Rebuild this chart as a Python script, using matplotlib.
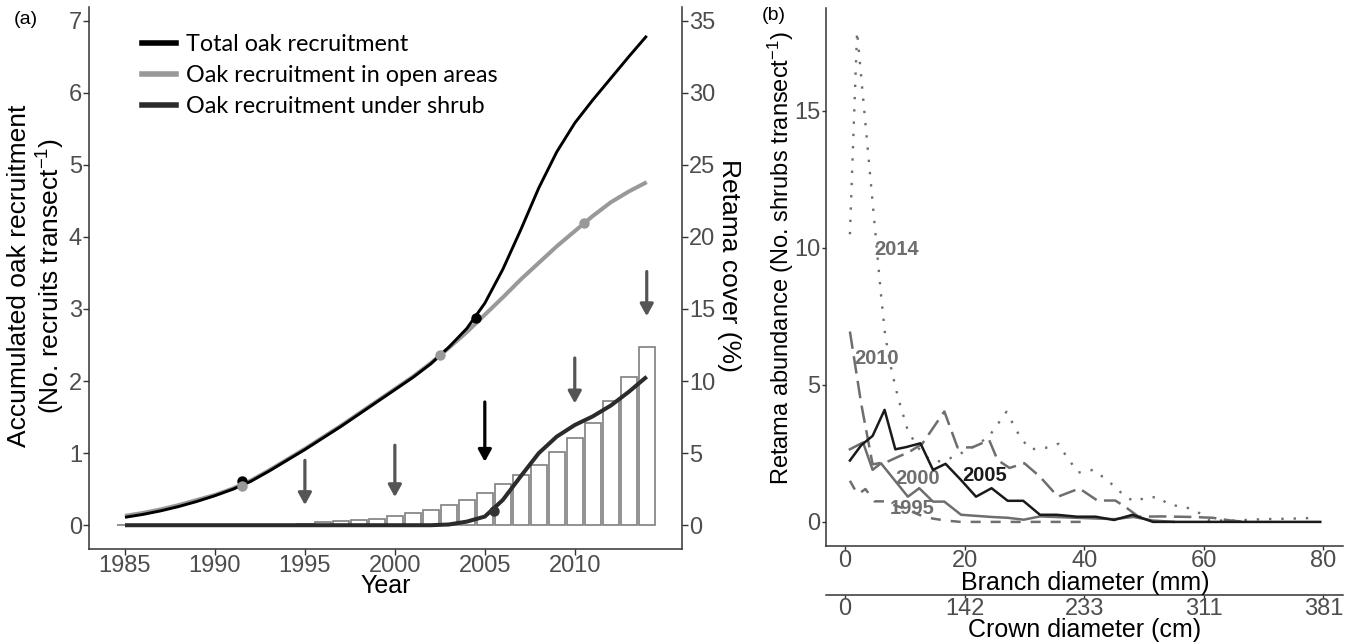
import matplotlib
matplotlib.use("Agg")
import matplotlib.pyplot as plt
from matplotlib.lines import Line2D

plt.rcParams["font.family"] = ["Liberation Sans", "DejaVu Sans"]
plt.rcParams["mathtext.fontset"] = "custom"
plt.rcParams["mathtext.rm"] = "Liberation Sans"
plt.rcParams["mathtext.default"] = "regular"

# ---- panel (a) data ----
years = list(range(1985, 2015))
total_oak = [0.11, 0.15, 0.20, 0.26, 0.33, 0.41, 0.50, 0.61, 0.75, 0.90,
             1.05, 1.21, 1.37, 1.54, 1.71, 1.88, 2.05, 2.24, 2.47, 2.73,
             3.08, 3.55, 4.10, 4.68, 5.18, 5.58, 5.90, 6.20, 6.50, 6.79]
open_oak = [0.13, 0.17, 0.22, 0.28, 0.35, 0.42, 0.51, 0.62, 0.76, 0.91,
            1.06, 1.22, 1.38, 1.55, 1.72, 1.89, 2.06, 2.25, 2.46, 2.68,
            2.92, 3.16, 3.41, 3.64, 3.87, 4.08, 4.29, 4.48, 4.63, 4.76]
shrub_oak = [0, 0, 0, 0, 0, 0, 0, 0, 0, 0,
             0, 0, 0, 0, 0, 0, 0, 0, 0.01, 0.05,
             0.12, 0.35, 0.68, 1.00, 1.23, 1.39, 1.51, 1.66, 1.85, 2.06]
retama_cover = [0, 0, 0, 0, 0, 0, 0, 0, 0, 0,
                0.05, 0.19, 0.28, 0.35, 0.46, 0.63, 0.86, 1.09, 1.41, 1.78,
                2.25, 2.89, 3.47, 4.21, 5.05, 6.02, 7.08, 8.61, 10.28, 12.38]

# highlighted points on the curves
total_pts_x = [1991.5, 2004.5]
total_pts_y = [0.61, 2.87]
open_pts_x = [1991.5, 2002.5, 2010.5]
open_pts_y = [0.55, 2.36, 4.20]
shrub_pts_x = [2005.5]
shrub_pts_y = [0.20]

# arrows (year, tail, tip) in left-axis units
arrow_years = [1995, 2000, 2005, 2010, 2014]
arrow_tail = [0.90, 1.11, 1.71, 2.32, 3.52]
arrow_tip = [0.28, 0.39, 0.88, 1.69, 2.90]
arrow_colors = ["#555555", "#555555", "#000000", "#555555", "#555555"]

# ---- panel (b) data ----
x1995 = [0.8, 2.1, 3.4, 4.9, 6.6, 8.4, 10.3, 12.5, 14.7, 16.8, 19.3, 25.0, 32.6, 40.0]
y1995 = [1.50, 1.00, 1.20, 0.75, 0.75, 0.60, 0.45, 0.25, 0.12, 0.05, 0.0, 0.0, 0.0, 0.0]

x2000 = [0.8, 3.0, 4.6, 6.0, 10.5, 12.4, 14.7, 16.6, 19.4, 24.5, 27.2, 29.9,
         32.6, 38.6, 45.0, 48.2, 51.5, 55.0]
y2000 = [2.65, 2.90, 1.90, 2.14, 0.92, 1.23, 0.74, 0.74, 0.26, 0.18, 0.15, 0.08,
         0.20, 0.15, 0.10, 0.18, 0.05, 0.0]

x2005 = [0.8, 2.7, 4.6, 6.6, 8.4, 10.2, 12.6, 14.7, 16.8, 19.3, 21.9, 24.5,
         27.2, 29.8, 32.6, 35.4, 38.8, 41.9, 45.0, 48.1, 51.5, 60.0, 70.0, 79.5]
y2005 = [2.24, 2.80, 3.14, 4.09, 2.65, 2.73, 2.87, 1.90, 2.12, 1.55, 0.92, 1.23,
         0.77, 0.77, 0.26, 0.26, 0.19, 0.19, 0.07, 0.26, 0.0, 0.0, 0.0, 0.0]

x2010 = [0.8, 2.7, 4.6, 7.1, 8.8, 10.7, 12.9, 16.6, 18.8, 21.3, 24.1, 25.5,
         27.5, 30.0, 32.6, 35.6, 39.2, 42.2, 45.2, 46.8, 49.1, 53.0, 58.0,
         61.5, 64.5, 67.0]
y2010 = [6.95, 4.30, 2.10, 2.20, 2.37, 2.55, 2.85, 4.03, 2.72, 2.72, 2.99, 2.26,
         1.97, 2.14, 1.65, 0.92, 1.22, 0.78, 0.78, 0.56, 0.19, 0.20, 0.18,
         0.15, 0.05, 0.0]

x2014 = [0.8, 2.0, 6.0, 6.7, 7.8, 8.9, 10.4, 12.0, 14.0, 16.0, 18.5, 21.5,
         24.0, 27.0, 29.4, 31.0, 33.5, 35.7, 37.0, 39.0, 41.5, 44.0, 47.0,
         48.5, 50.5, 52.5, 54.0, 57.5, 59.5, 61.0, 65.0, 70.0, 75.0, 79.0]
y2014 = [10.5, 17.9, 8.3, 6.8, 5.5, 4.5, 3.4, 2.75, 2.3, 2.2, 2.4, 2.75,
         3.10, 4.02, 3.05, 2.65, 2.70, 2.85, 2.40, 1.80, 1.90, 1.50, 0.90,
         0.75, 0.90, 0.90, 0.65, 0.50, 0.30, 0.05, 0.05, 0.10, 0.12, 0.15]

branch_ticks = [0, 20, 40, 60, 80]
crown_labels = ["0", "142", "233", "311", "381"]

W, H = 1352, 644
fig = plt.figure(figsize=(W / 100, H / 100), dpi=100)


def frac(x, y):
    return x / W, 1 - y / H


AX_COL = "#333333"
TICK_COL = "#4d4d4d"
TSIZE = 17

# ================= panel (a) =================
axa = fig.add_axes([89 / W, 1 - 549 / H, (682 - 89) / W, (549 - 7) / H])
axr = axa.twinx()
axa.set_zorder(axr.get_zorder() + 1)
axa.patch.set_visible(False)

axr.bar(years, retama_cover, width=0.9, color="white", edgecolor="#7f7f7f",
        linewidth=1.2)

axa.plot(years, shrub_oak, color="#2b2b2b", lw=2.9, solid_capstyle="butt", zorder=3)
axa.plot(years, open_oak, color="#999999", lw=2.9, solid_capstyle="butt", zorder=3)
axa.plot(years, total_oak, color="black", lw=2.1, solid_capstyle="butt", zorder=4)
axa.plot(total_pts_x, total_pts_y, "o", color="black", ms=6.5, zorder=5)
axa.plot(open_pts_x, open_pts_y, "o", color="#999999", ms=6.5, zorder=5)
axa.plot(shrub_pts_x, shrub_pts_y, "o", color="#333333", ms=6.5, zorder=5)

for yr, t0, t1, c in zip(arrow_years, arrow_tail, arrow_tip, arrow_colors):
    axa.annotate("", xy=(yr, t1), xytext=(yr, t0),
                 arrowprops=dict(arrowstyle="-|>,head_length=0.4,head_width=0.22",
                                 color=c, lw=2.3, shrinkA=0, shrinkB=0,
                                 mutation_scale=18), zorder=6)

axa.set_xlim(1983.0, 2015.96)
axa.set_ylim(-0.33, 7.19)
axr.set_ylim(-0.33 * 5, 7.19 * 5)
axa.set_xticks([1985, 1990, 1995, 2000, 2005, 2010])
axa.set_yticks(range(0, 8))
axr.set_yticks(range(0, 36, 5))

for ax in (axa, axr):
    ax.spines["top"].set_visible(False)
    for s in ("left", "bottom", "right"):
        ax.spines[s].set_color(AX_COL)
        ax.spines[s].set_linewidth(1.1)
axa.spines["right"].set_visible(False)
axr.spines["left"].set_visible(False)
axr.spines["bottom"].set_visible(False)

for ax in (axa, axr):
    ax.tick_params(length=4, width=1, color=AX_COL, labelcolor=TICK_COL,
                   labelsize=TSIZE, pad=1)
axa.tick_params(axis="x", pad=0)

legend_handles = [
    Line2D([], [], color="black", lw=4),
    Line2D([], [], color="#999999", lw=4),
    Line2D([], [], color="#2b2b2b", lw=4),
]
legend_labels = ["Total oak recruitment", "Oak recruitment in open areas",
                 "Oak recruitment under shrub"]
axa.legend(legend_handles, legend_labels, loc="upper left",
           bbox_to_anchor=(0.089, 0.95), frameon=False,
           prop={"family": ["Lato", "DejaVu Sans"], "size": 16.8},
           handlelength=1.45, handletextpad=0.45, labelspacing=0.42,
           borderaxespad=0, borderpad=0)

fig.text(*frac(19, 276), "Accumulated oak recruitment", rotation=90,
         ha="center", va="center", fontsize=19)
fig.text(*frac(51, 276), r"(No. recruits transect$^{-1}$)", rotation=90,
         ha="center", va="center", fontsize=19)
fig.text(*frac(729, 265), "Retama cover (%)", rotation=-90,
         ha="center", va="center", fontsize=19)
fig.text(*frac(386, 586), "Year", ha="center", va="center", fontsize=18)
fig.text(*frac(26, 20), "(a)", ha="center", va="center", fontsize=14)

# ================= panel (b) =================
axb = fig.add_axes([826 / W, 1 - 546 / H, (1343 - 826) / W, (546 - 8) / H])
grey = "#6e6e6e"
axb.plot(x1995, y1995, color=grey, lw=1.8, dashes=(4, 4), dash_capstyle="butt")
axb.plot(x2000, y2000, color=grey, lw=1.8)
axb.plot(x2010, y2010, color=grey, lw=1.8, dashes=(7, 3), dash_capstyle="butt")
axb.plot(x2014, y2014, color=grey, lw=1.7, dashes=(1, 4.2), dash_capstyle="butt")
axb.plot(x2005, y2005, color="#1a1a1a", lw=1.8, zorder=4)

lab_font = dict(fontsize=14.5, fontweight="bold", ha="center", va="center")
axb.text(8.65, 9.93, "2014", color=grey, **lab_font)
axb.text(5.3, 5.95, "2010", color=grey, **lab_font)
axb.text(12.1, 1.6, "2000", color=grey, **lab_font)
axb.text(11.3, 0.5, "1995", color=grey, **lab_font)
axb.text(23.3, 1.7, "2005", color="#1a1a1a", zorder=5, **lab_font)

axb.set_xlim(-3.2, 83.3)
axb.set_ylim(-0.88, 18.76)
axb.set_xticks(branch_ticks)
axb.set_yticks([0, 5, 10, 15])
axb.spines["top"].set_visible(False)
axb.spines["right"].set_visible(False)
for s in ("left", "bottom"):
    axb.spines[s].set_color(AX_COL)
    axb.spines[s].set_linewidth(1.1)
axb.tick_params(length=3, width=1, color=AX_COL, labelcolor=TICK_COL,
                labelsize=TSIZE, pad=1)
axb.tick_params(axis="x", pad=0)

axc = axb.twiny()
axc.set_xlim(axb.get_xlim())
axc.set_xticks(branch_ticks)
axc.set_xticklabels(crown_labels)
axc.xaxis.set_ticks_position("bottom")
for s in ("top", "left", "right"):
    axc.spines[s].set_visible(False)
axc.spines["bottom"].set_position(("outward", 49 * 0.72))
axc.spines["bottom"].set_color(AX_COL)
axc.spines["bottom"].set_linewidth(1.1)
axc.tick_params(axis="x", length=2, width=1, color=AX_COL, labelcolor=TICK_COL,
                labelsize=TSIZE, pad=0)
axc.patch.set_visible(False)

fig.text(*frac(1085, 583), "Branch diameter (mm)", ha="center", va="center",
         fontsize=18)
fig.text(*frac(1085, 630), "Crown diameter (cm)", ha="center", va="center",
         fontsize=18)
fig.text(*frac(781, 258), r"Retama abundance (No. shrubs transect$^{-1}$)",
         rotation=90, ha="center", va="center", fontsize=17)
fig.text(*frac(774, 16), "(b)", ha="center", va="center", fontsize=14)

fig.savefig("out.png", dpi=100)
